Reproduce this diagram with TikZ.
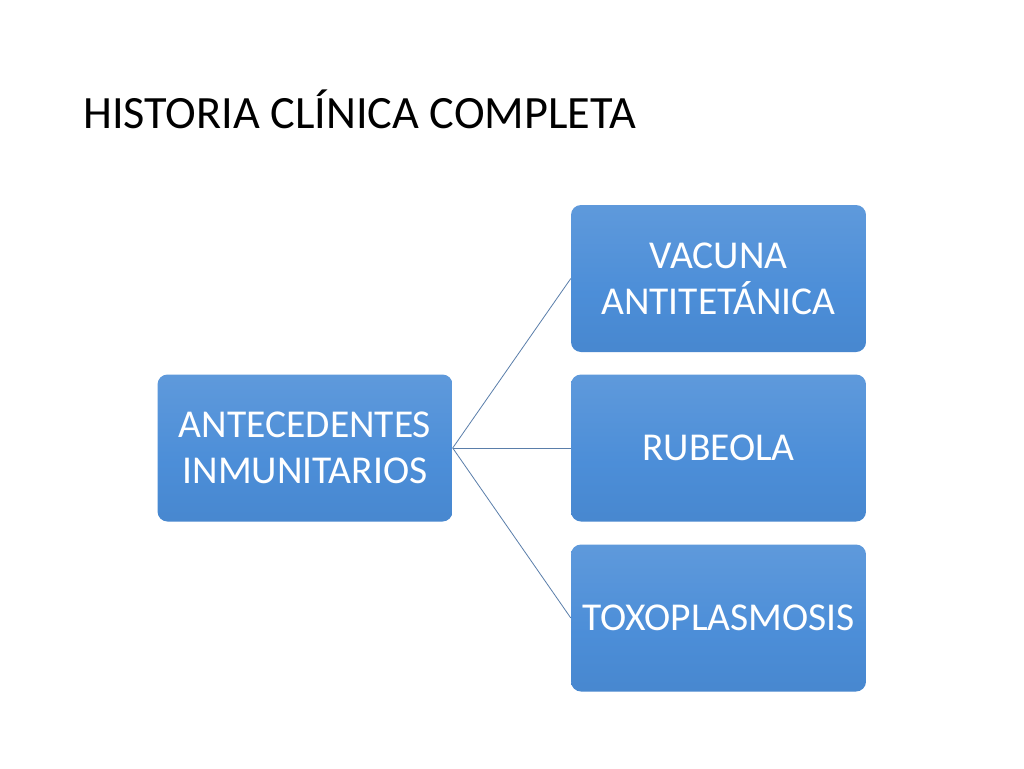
\documentclass[tikz,border=0pt]{standalone}
\usepackage{fontspec}
\setmainfont{Carlito}
\definecolor{bxtop}{RGB}{110,163,222}
\definecolor{bxmid}{RGB}{76,142,216}
\definecolor{bxbot}{RGB}{66,127,196}
\definecolor{linkc}{RGB}{90,126,170}
\pgfdeclareverticalshading{boxgrad}{100bp}{
  color(0bp)=(bxbot); color(45bp)=(bxmid); color(100bp)=(bxtop)}
\tikzset{
  box/.style={rounded corners=10pt, shading=boxgrad, draw=none,
    minimum width=295pt, minimum height=147pt, inner sep=0pt,
    text=white, align=center,
    font=\fontsize{39.5}{46}\selectfont},
  link/.style={draw=linkc, line width=0.8pt}
}
\begin{document}
\begin{tikzpicture}[x=1pt,y=-1pt]
\useasboundingbox[fill=white] (0,0) rectangle (1024,768);
\node[anchor=base west, inner sep=0pt, font=\fontsize{46.3}{56}\selectfont] (title) at (83,128) {HISTORIA CLÍNICA COMPLETA};
\node[box] (root) at (305,448) {ANTECEDENTES\\INMUNITARIOS};
\node[box] (c1) at (718.5,278.5) {VACUNA\\ANTITETÁNICA};
\node[box] (c2) at (718.5,448) {RUBEOLA};
\node[box] (c3) at (718.5,618) {TOXOPLASMOSIS};
\draw[link] (root.east) -- (c1.west);
\draw[link] (root.east) -- (c2.west);
\draw[link] (root.east) -- (c3.west);
\end{tikzpicture}
\end{document}
